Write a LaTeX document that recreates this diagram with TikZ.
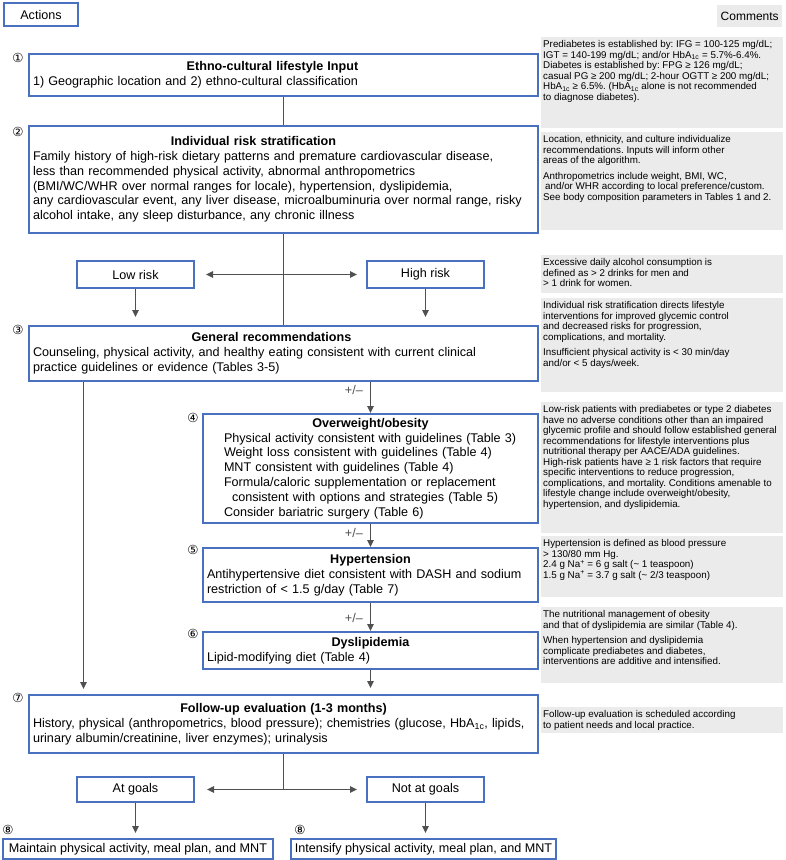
\documentclass[tikz,border=0pt]{standalone}
\usepackage{fontspec}
\setmainfont{Liberation Sans}
\newfontfamily\notefont{Liberation Sans}
\newfontfamily\circfont{DejaVu Sans}
\usetikzlibrary{positioning,arrows.meta,calc}
\definecolor{boxblue}{HTML}{4A70C0}
\definecolor{notegray}{HTML}{EBEBEB}
\definecolor{arrowgray}{HTML}{505050}
\frenchspacing
\newcommand{\mainsize}{\fontsize{12.6}{14.8}\selectfont}
\newcommand{\notesize}{\fontsize{9.8}{10.5}\selectfont\notefont}
\newcommand{\boxtitle}[1]{{\centering\bfseries #1\par}}
\newcommand{\notebody}[2]{\parbox[t][#1][t]{238pt}{\raggedright #2}}
\newcommand{\hba}{HbA\textsubscript{1c}}
\newcommand{\nap}{Na\textsuperscript{+}}
\tikzset{
  act/.style={draw=boxblue, line width=2pt, fill=white, anchor=north west, font=\mainsize, inner xsep=4pt, inner ysep=3pt, align=left},
  lbl/.style={draw=boxblue, line width=2pt, fill=white, anchor=north west, font=\mainsize, inner sep=2pt, align=center},
  note/.style={fill=notegray, anchor=north west, font=\notesize, inner xsep=2pt, inner ysep=3.5pt},
  num/.style={font=\circfont\fontsize{12.5}{13}\selectfont, inner sep=0pt},
  fl/.style={-{Triangle[length=7pt,width=6.5pt]}, arrowgray, line width=1.3pt},
  dfl/.style={{Triangle[length=7pt,width=6.5pt]}-{Triangle[length=7pt,width=6.5pt]}, arrowgray, line width=1.3pt},
  ln/.style={arrowgray, line width=1.3pt},
  pm/.style={font=\mainsize, inner sep=2pt},
}
\begin{document}
\begin{tikzpicture}[x=1pt, y=-1pt]
\useasboundingbox (0,0) rectangle (785,860);
% headers
\node[lbl, minimum width=74pt, minimum height=23pt] (act) at (3,2) {Actions};
\node[note, minimum width=65pt, minimum height=22pt, font=\fontsize{12}{14}\selectfont] (com) at (717,5) {Comments};
% action boxes
\node[act, text width=501pt, minimum height=42pt] (b1) at (28,53)
  {\boxtitle{Ethno-cultural lifestyle Input\hspace*{22pt}}
   1) Geographic location and 2) ethno-cultural classification};
\node[act, text width=501pt, minimum height=107pt] (b2) at (28,125)
  {\boxtitle{Individual risk stratification\hspace*{60pt}}
   Family history of high-risk dietary patterns and premature cardiovascular disease,\\
   less than recommended physical activity, abnormal anthropometrics\\
   (BMI/WC/WHR over normal ranges for locale), hypertension, dyslipidemia,\\
   any cardiovascular event, any liver disease, microalbuminuria over normal range, risky\\
   alcohol intake, any sleep disturbance, any chronic illness};
\node[lbl, minimum width=117pt, minimum height=27pt] (low) at (76,260) {Low risk};
\node[lbl, minimum width=117pt, minimum height=27pt] (high) at (366,260) {High risk};
\node[act, text width=501pt, minimum height=55pt] (b3) at (28,325)
  {\boxtitle{General recommendations\hspace*{24pt}}
   Counseling, physical activity, and healthy eating consistent with current clinical\\
   practice guidelines or evidence (Tables 3-5)};
\node[act, inner xsep=21pt, text width=293pt, minimum height=109pt] (b4) at (202,413)
  {\boxtitle{Overweight/obesity}
   Physical activity consistent with guidelines (Table 3)\\
   Weight loss consistent with guidelines (Table 4)\\
   MNT consistent with guidelines (Table 4)\\
   Formula/caloric supplementation or replacement\\
   \hspace*{8pt}consistent with options and strategies (Table 5)\\
   Consider bariatric surgery (Table 6)};
\node[act, text width=327pt, minimum height=54pt] (b5) at (202,547)
  {\boxtitle{Hypertension}
   Antihypertensive diet consistent with DASH and sodium\\
   restriction of < 1.5 g/day (Table 7)};
\node[act, text width=327pt, minimum height=37pt] (b6) at (202,631)
  {\boxtitle{Dyslipidemia}
   Lipid-modifying diet (Table 4)};
\node[act, text width=501pt, minimum height=58pt] (b7) at (28,694)
  {\boxtitle{Follow-up evaluation (1-3 months)}
   History, physical (anthropometrics, blood pressure); chemistries (glucose, \hba, lipids,\\
   urinary albumin/creatinine, liver enzymes); urinalysis};
\node[lbl, minimum width=117pt, minimum height=25pt] (atg) at (76,776) {At goals};
\node[lbl, minimum width=117pt, minimum height=25pt] (notg) at (366,776) {Not at goals};
\node[lbl, minimum width=270pt, minimum height=20pt] (keep) at (2,838) {Maintain physical activity, meal plan, and MNT};
\node[lbl, minimum width=265pt, minimum height=20pt] (more) at (290,838) {Intensify physical activity, meal plan, and MNT};
% step numbers
\node[num] at ($(b1.north west)+(-10,5)$) {①};
\node[num] at ($(b2.north west)+(-10,7)$) {②};
\node[num] at ($(b3.north west)+(-10,5)$) {③};
\node[num] at ($(b4.north west)+(-9,5)$) {④};
\node[num] at ($(b5.north west)+(-9,3)$) {⑤};
\node[num] at ($(b6.north west)+(-9,3)$) {⑥};
\node[num] at ($(b7.north west)+(-10,4)$) {⑦};
\node[num] at ($(keep.north west)+(6,-8)$) {⑧};
\node[num] at ($(more.north west)+(10,-8)$) {⑧};
% comments
\node[note] (c1) at (541,37) {\notebody{84pt}{%
   Prediabetes is established by: IFG = 100-125 mg/dL;\\
   IGT = 140-199 mg/dL; and/or \hba{} = 5.7\%-6.4\%.\\
   Diabetes is established by: FPG ≥ 126 mg/dL;\\
   casual PG ≥ 200 mg/dL; 2-hour OGTT ≥ 200 mg/dL;\\
   \hba{} ≥ 6.5\%. (\hba{} alone is not recommended\\
   to diagnose diabetes).}};
\node[note] (c2) at (541,132) {\notebody{91pt}{%
   Location, ethnicity, and culture individualize\\
   recommendations. Inputs will inform other\\
   areas of the algorithm.\\[5pt]
   Anthropometrics include weight, BMI, WC,\\
   \hspace*{2pt}and/or WHR according to local preference/custom.\\
   See body composition parameters in Tables 1 and 2.}};
\node[note] (c3) at (541,255) {\notebody{31pt}{%
   Excessive daily alcohol consumption is\\
   defined as > 2 drinks for men and\\
   > 1 drink for women.}};
\node[note] (c4) at (541,298) {\notebody{87pt}{%
   Individual risk stratification directs lifestyle\\
   interventions for improved glycemic control\\
   and decreased risks for progression,\\
   complications, and mortality.\\[5pt]
   Insufficient physical activity is < 30 min/day\\
   and/or < 5 days/week.}};
\node[note] (c5) at (541,402) {\notebody{124pt}{%
   Low-risk patients with prediabetes or type 2 diabetes\\
   have no adverse conditions other than an impaired\\
   glycemic profile and should follow established general\\
   recommendations for lifestyle interventions plus\\
   nutritional therapy per AACE/ADA guidelines.\\
   High-risk patients have ≥ 1 risk factors that require\\
   specific interventions to reduce progression,\\
   complications, and mortality. Conditions amenable to\\
   lifestyle change include overweight/obesity,\\
   hypertension, and dyslipidemia.}};
\node[note] (c6) at (541,536) {\notebody{54pt}{%
   Hypertension is defined as blood pressure\\
   > 130/80 mm Hg.\\
   2.4 g \nap{} = 6 g salt (\textasciitilde{} 1 teaspoon)\\
   1.5 g \nap{} = 3.7 g salt (\textasciitilde{} 2/3 teaspoon)}};
\node[note] (c7) at (541,607) {\notebody{69pt}{%
   The nutritional management of obesity\\
   and that of dyslipidemia are similar (Table 4).\\[5pt]
   When hypertension and dyslipidemia\\
   complicate prediabetes and diabetes,\\
   interventions are additive and intensified.}};
\node[note] (c8) at (541,707) {\notebody{19pt}{%
   Follow-up evaluation is scheduled according\\
   to patient needs and local practice.}};
% connectors
\draw[ln] (b1.south) -- (b2.north);
\draw[ln] (b2.south) -- (b3.north);
\draw[dfl, shorten <=11pt, shorten >=9pt] (low.east) -- (high.west);
\draw[fl, shorten >=8pt] (low.south) -- (low.south |- b3.north);
\draw[fl, shorten >=8pt] (high.south) -- (high.south |- b3.north);
\draw[fl] (b4.north |- b3.south) -- node[pm, pos=0.25, left=5pt] {+/--} (b4.north);
\draw[fl] (b4.south) -- node[pm, pos=0.4, left=5pt] {+/--} (b5.north);
\draw[fl] (b5.south) -- node[pm, pos=0.55, left=5pt] {+/--} (b6.north);
\draw[fl, shorten >=6pt] (b6.south) -- (b6.south |- b7.north);
\draw[fl, shorten >=5pt] ([xshift=55.5pt]b3.south west) -- ([xshift=55.5pt]b7.north west);
\draw[ln] (b7.south) -- (b7.south |- atg.east);
\draw[dfl, shorten <=12pt, shorten >=9pt] (atg.east) -- (notg.west);
\draw[fl, shorten >=5pt] (atg.south) -- (atg.south |- keep.north);
\draw[fl, shorten >=5pt] (notg.south) -- (notg.south |- more.north);
\end{tikzpicture}
\end{document}
